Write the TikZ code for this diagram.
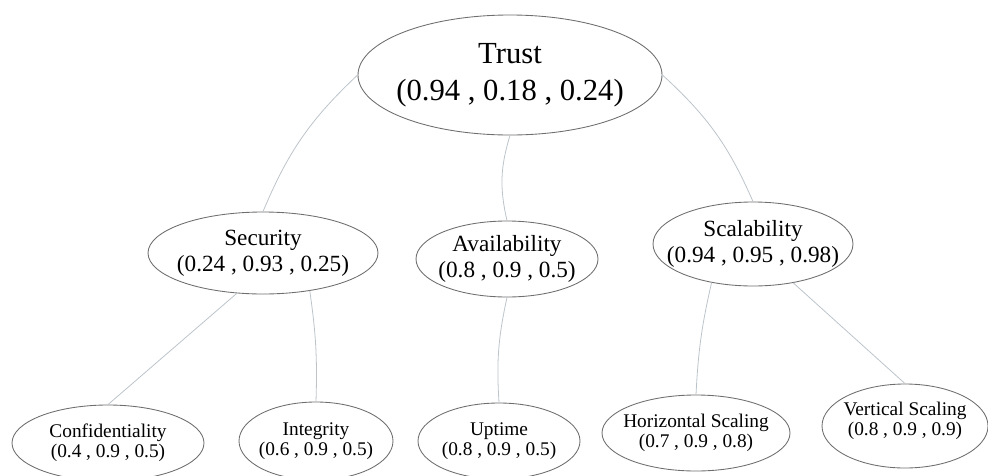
\documentclass[tikz,border=0pt]{standalone}
\usepackage{fontspec}
\setmainfont{Liberation Serif}
\usetikzlibrary{shapes.geometric}
\definecolor{linkgray}{RGB}{188,196,202}
\definecolor{rimgray}{RGB}{110,110,110}
\begin{document}
\begin{tikzpicture}[x=0.75pt,y=-0.75pt,
  oval/.style={ellipse,draw=rimgray,line width=0.65pt,inner sep=0pt},
  topfont/.style={align=center,font=\fontsize{23}{27.5}\selectfont},
  midfont/.style={align=center,font=\fontsize{17.4}{19.5}\selectfont},
  lowfont/.style={align=center,font=\fontsize{14.5}{15}\selectfont},
  link/.style={draw=linkgray,line width=0.6pt}]
\useasboundingbox (0,0) rectangle (988,475);

\node[oval,minimum width=228pt,minimum height=90pt,
  label={[topfont]center:Trust\\(0.94 , 0.18 , 0.24)}] (trust) at (510,75) {};

\node[oval,minimum width=172.5pt,minimum height=61.5pt,
  label={[midfont]center:Security\\(0.24 , 0.93 , 0.25)}] (security) at (263,253) {};
\node[oval,minimum width=136.5pt,minimum height=57pt,
  label={[midfont]center:Availability\\(0.8 , 0.9 , 0.5)}] (avail) at (507,259) {};
\node[oval,minimum width=150pt,minimum height=63pt,
  label={[midfont]center:Scalability\\(0.94 , 0.95 , 0.98)}] (scal) at (753,244) {};

\node[oval,minimum width=144pt,minimum height=57pt,
  label={[lowfont]center:Confidentiality\\(0.4 , 0.9 , 0.5)}] (conf) at (108,443) {};
\node[oval,minimum width=115.5pt,minimum height=58.5pt,
  label={[lowfont]center:Integrity\\(0.6 , 0.9 , 0.5)}] (integ) at (316,441) {};
\node[oval,minimum width=121.5pt,minimum height=57pt,
  label={[lowfont]center:Uptime\\(0.8 , 0.9 , 0.5)}] (uptime) at (499,441) {};
\node[oval,minimum width=141pt,minimum height=57pt,
  label={[lowfont]center:Horizontal Scaling\\(0.7 , 0.9 , 0.8)}] (hscal) at (696,433) {};
\node[oval,minimum width=124.5pt,minimum height=63pt,
  label={[lowfont,yshift=4pt]center:Vertical Scaling\\(0.8 , 0.9 , 0.9)}] (vscal) at (905,426) {};

\draw[link] (trust.west) to[bend right=12] (security.north);
\draw[link] (trust.south) to[bend right=15] (avail.north);
\draw[link] (trust.east) to[bend left=12] (scal.north);

\draw[link] (security.237) -- (conf.north);
\draw[link] (security.321) to[bend left=5] (integ.north);
\draw[link] (avail.south) to[bend right=8] (uptime.north);
\draw[link] (scal.223) to[bend right=5] (hscal.north);
\draw[link] (scal.316) -- (vscal.north);
\end{tikzpicture}
\end{document}
